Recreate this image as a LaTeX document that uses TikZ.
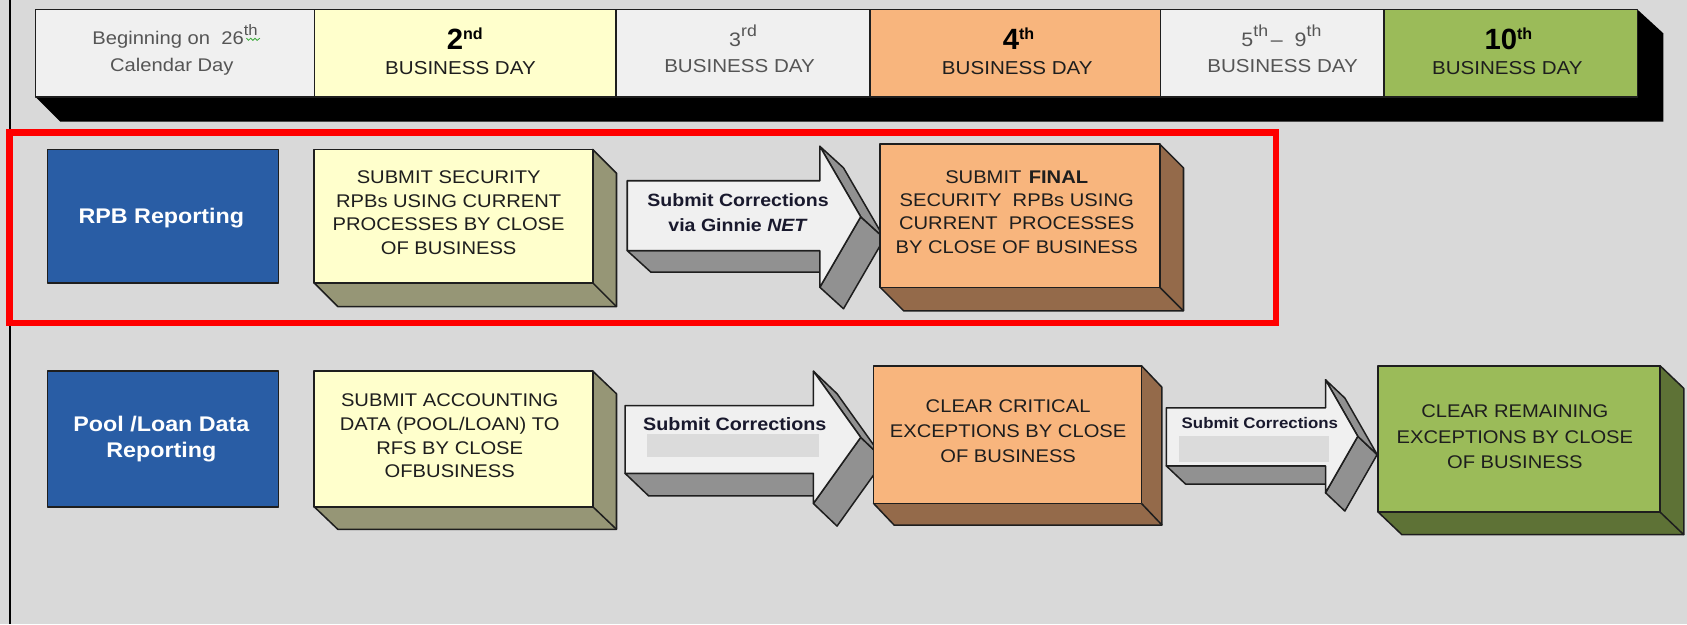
\documentclass[tikz,border=0pt]{standalone}
\usepackage{fontspec}
\setmainfont{Liberation Sans}[FakeStretch=1.1]
\newfontfamily\numfont{Liberation Sans}
\usetikzlibrary{calc}
\definecolor{bgc}{RGB}{217,217,217}
\definecolor{cellgray}{RGB}{240,240,240}
\definecolor{cellyellow}{RGB}{255,255,204}
\definecolor{cellorange}{RGB}{248,181,125}
\definecolor{cellgreen}{RGB}{155,187,89}
\definecolor{bluec}{RGB}{41,93,165}
\definecolor{ysid}{RGB}{150,150,118}
\definecolor{osid}{RGB}{148,106,74}
\definecolor{gsid}{RGB}{94,114,54}
\definecolor{arrfront}{RGB}{240,240,240}
\definecolor{arrside}{RGB}{145,145,145}
\definecolor{edgec}{RGB}{30,30,30}
\definecolor{txtc}{RGB}{30,30,30}
\definecolor{graytxt}{RGB}{85,85,85}
\definecolor{arrtxt}{RGB}{25,25,45}
\definecolor{innerrect}{RGB}{219,219,219}
\definecolor{squig}{RGB}{60,170,60}
\newcommand\sups[3]{\raisebox{#1}{\fontsize{#2}{#2}\selectfont #3}}
\newcommand\threedbox[8]{%
  \filldraw[edge, fill=#8] (#3,#2) -- ({#3+#5},{#2+#6}) -- ({#3+#5},{#4+#6}) -- ({#1+#5},{#4+#6}) -- (#1,#4) -- cycle;
  \draw[edge] (#3,#4) -- ({#3+#5},{#4+#6});
  \filldraw[edge, fill=#7] (#1,#2) rectangle (#3,#4);
}
% #1 x0, #2 yt, #3 yb, #4 xh, #5 ht, #6 hb, #7 xtip, #8 dx, #9 dy
\newcommand\threedarrow[9]{%
  \coordinate (pA) at (#1,#2);
  \coordinate (pB) at (#4,#2);
  \coordinate (pC) at (#4,#5);
  \coordinate (pD) at (#7,{(#5+#6)/2});
  \coordinate (pE) at (#4,#6);
  \coordinate (pF) at (#4,#3);
  \coordinate (pG) at (#1,#3);
  \filldraw[edge, fill=arrside] (pF) -- (pG) -- ($(pG)+(#8,#9)$) -- ($(pF)+(#8,#9)$) -- cycle;
  \filldraw[edge, fill=arrside] (pD) -- (pE) -- ($(pE)+(#8,#9)$) -- ($(pD)+(#8,#9)$) -- cycle;
  \filldraw[edge, fill=arrside] (pC) -- (pD) -- ($(pD)+(#8,#9)$) -- ($(pC)+(#8,#9)$) -- cycle;
  \filldraw[edge, fill=arrfront] (pA) -- (pB) -- (pC) -- (pD) -- (pE) -- (pF) -- (pG) -- cycle;
}
\tikzset{
  edge/.style={draw=edgec, line width=0.8pt, line join=round},
  txt/.style={anchor=base, inner sep=0pt, text=txtc},
  boxtxt/.style={txt, font=\fontsize{9.7}{11}\selectfont},
  htxt/.style={txt, font=\fontsize{9.9}{11}\selectfont},
  hgray/.style={htxt, text=graytxt},
  arrowtxt/.style={txt, text=arrtxt, font=\bfseries\fontsize{9.4}{11}\selectfont},
  bluetxt/.style={txt, text=white, font=\bfseries\fontsize{11.2}{13}\selectfont},
  bignum/.style={txt, text=black, font=\numfont\bfseries\fontsize{15.5}{16}\selectfont},
}
\begin{document}
\begin{tikzpicture}[x=0.02cm,y=-0.02cm]
\useasboundingbox (0,0) rectangle (1568,580);
\fill[bgc] (0,0) rectangle (1568,580);
\draw[black, line width=1.1pt] (9.5,0) -- (9.5,580);

% ---------- header band ----------
\fill[black] (33,90) -- (56,113) -- (1546,113) -- (1546,31) -- (1522,9) -- (1522,90) -- cycle;
\filldraw[edge, fill=cellgray]   (33,9)     rectangle (292.5,90);
\filldraw[edge, fill=cellyellow] (292.5,9)  rectangle (572.6,90);
\filldraw[edge, fill=cellgray]   (572.6,9)  rectangle (808.7,90);
\filldraw[edge, fill=cellorange] (808.7,9)  rectangle (1078.8,90);
\filldraw[edge, fill=cellgray]   (1078.8,9) rectangle (1286.5,90);
\filldraw[edge, fill=cellgreen]  (1286.5,9) rectangle (1522,90);

\node[hgray, font=\fontsize{9.7}{11}\selectfont] (h1a) at (162.7,41.2) {Beginning on\ \ 26\sups{4.6pt}{8}{th}};
\draw[squig, line width=0.45pt] (229,35.5) -- (231,37.5) -- (233,35.5) -- (235,37.5) -- (237,35.5) -- (239,37.5) -- (241.5,35.5);
\node[hgray, font=\fontsize{9.7}{11}\selectfont] (h1b) at (159.7,66.6) {Calendar Day};

\node[bignum] (h2a) at (432,45.8) {2\sups{5.4pt}{8.5}{\bfseries nd}};
\node[htxt] (h2b) at (428,69.7) {BUSINESS DAY};

\node[hgray] (h3a) at (690.6,43.4) {{\fontsize{10.3}{11}\selectfont 3}\sups{5.3pt}{8.5}{rd}};
\node[hgray] (h3b) at (687.4,67.6) {BUSINESS DAY};

\node[bignum] (h4a) at (946.7,45.8) {4\sups{5.4pt}{8.5}{\bfseries th}};
\node[htxt] (h4b) at (945.5,69.7) {BUSINESS DAY};

\node[hgray] (h5a) at (1191,43.4) {{\fontsize{10.3}{11}\selectfont 5}\sups{5.3pt}{8.5}{th}\hspace{0.15em}{\fontsize{10.3}{11}\selectfont –\ \ 9}\sups{5.3pt}{8.5}{th}};
\node[hgray] (h5b) at (1192.1,67.6) {BUSINESS DAY};

\node[bignum] (h6a) at (1402,45.8) {10\sups{5.4pt}{8.5}{\bfseries th}};
\node[htxt] (h6b) at (1401,69.7) {BUSINESS DAY};

% ---------- row 1 : RPB reporting ----------
\threedarrow{583}{168}{233}{762}{136}{267}{800}{22}{20}
\node[arrowtxt] (a1a) at (686,192.4) {Submit Corrections};
\node[arrowtxt] (a1b) at (686,215.6) {via Ginnie \textit{NET}};

\filldraw[edge, fill=bluec] (44,139) rectangle (259,263);
\node[bluetxt] (rpb) at (150,207.6) {RPB Reporting};

\threedbox{292}{139}{551}{263}{22}{22}{cellyellow}{ysid}
\node[boxtxt] (y1a) at (417,171) {SUBMIT SECURITY};
\node[boxtxt] (y1b) at (417,193) {RPBs USING CURRENT};
\node[boxtxt] (y1c) at (417,214.5) {PROCESSES BY CLOSE};
\node[boxtxt] (y1d) at (417,236.5) {OF BUSINESS};

\threedbox{818}{134}{1078}{267}{22}{22}{cellorange}{osid}
\node[boxtxt] (o1a) at (945,171) {SUBMIT\hspace{0.4em}\textbf{FINAL}};
\node[boxtxt] (o1b) at (945,191.5) {SECURITY\hspace{0.3em} RPBs USING};
\node[boxtxt] (o1c) at (945,213) {CURRENT\hspace{0.3em} PROCESSES};
\node[boxtxt] (o1d) at (945,235.5) {BY CLOSE OF BUSINESS};

% ---------- row 2 : Pool/Loan data ----------
\threedarrow{581}{377}{440}{756}{345}{468}{800}{22}{21}
\fill[innerrect] (601,403) rectangle (761,425);
\node[arrowtxt, font=\bfseries\fontsize{9.5}{11}\selectfont] (a2) at (683,400) {Submit Corrections};

\threedarrow{1084}{379}{433}{1232}{353}{458}{1262}{18}{17}
\fill[innerrect] (1096,405) rectangle (1235,429);
\node[arrowtxt, font=\bfseries\fontsize{8.1}{10}\selectfont] (a3) at (1171,398.4) {Submit Corrections};

\filldraw[edge, fill=bluec] (44,345) rectangle (259,471);
\node[bluetxt] (pl1) at (150,401) {Pool /Loan Data};
\node[bluetxt] (pl2) at (150,425.5) {Reporting};

\threedbox{292}{345}{551}{471}{22}{21}{cellyellow}{ysid}
\node[boxtxt] (y2a) at (418,378) {SUBMIT ACCOUNTING};
\node[boxtxt] (y2b) at (418,400) {DATA (POOL/LOAN) TO};
\node[boxtxt] (y2c) at (418,422) {RFS BY CLOSE};
\node[boxtxt] (y2d) at (418,444) {OFBUSINESS};

\threedbox{812}{340}{1061}{468}{19}{20}{cellorange}{osid}
\node[boxtxt] (o2a) at (937,383) {CLEAR CRITICAL};
\node[boxtxt] (o2b) at (937,406.8) {EXCEPTIONS BY CLOSE};
\node[boxtxt] (o2c) at (937,430) {OF BUSINESS};

\threedbox{1281}{340}{1543}{476}{22}{21}{cellgreen}{gsid}
\node[boxtxt] (g2a) at (1408,387.6) {CLEAR REMAINING};
\node[boxtxt] (g2b) at (1408,412.4) {EXCEPTIONS BY CLOSE};
\node[boxtxt] (g2c) at (1408,435.6) {OF BUSINESS};

% ---------- highlight ----------
\draw[red, line width=3.4pt] (9,123) rectangle (1186,300);
\end{tikzpicture}
\end{document}
